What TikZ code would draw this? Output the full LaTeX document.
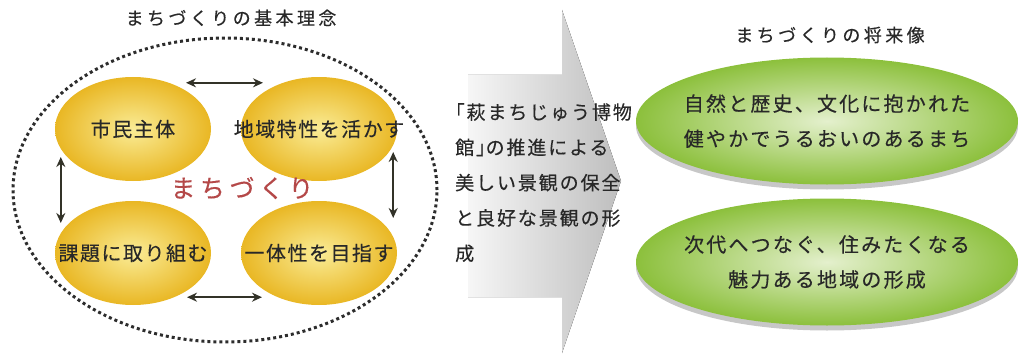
\documentclass[tikz,border=0pt]{standalone}
\usepackage{fontspec}
\setmainfont{Noto Sans CJK JP}[FakeBold=0.35]
\usetikzlibrary{shapes.geometric,arrows.meta,calc,shadows}
\definecolor{txt}{RGB}{40,40,40}
\definecolor{arr}{RGB}{50,50,40}
\definecolor{dotc}{RGB}{45,45,45}
\definecolor{yin}{RGB}{250,236,150}
\definecolor{yout}{RGB}{233,183,36}
\definecolor{gin}{RGB}{228,240,205}
\definecolor{gout}{RGB}{140,192,60}
\definecolor{machi}{RGB}{180,72,72}
\definecolor{bgl}{RGB}{246,246,246}
\definecolor{bgr}{RGB}{190,190,190}
\begin{document}
\begin{tikzpicture}[x=1pt,y=-1pt,
  yel/.style={ellipse, minimum width=156pt, minimum height=104pt, inner xsep=-40pt, inner ysep=-10pt,
    inner color=yin, outer color=yout, text=txt, font=\fontsize{20}{22}\selectfont\addfontfeature{LetterSpace=7.5}},
  grn/.style={ellipse, minimum width=382pt, minimum height=127pt, inner xsep=-80pt, inner ysep=-30pt,
    inner color=gin, outer color=gout, text=txt, align=center,
    font=\fontsize{20}{35}\selectfont\addfontfeature{LetterSpace=11},
    general shadow={fill=black!22, shadow yshift=-5pt}},
  dbl/.style={{Stealth[length=10pt,width=9pt]}-{Stealth[length=10pt,width=9pt]}, line width=2pt, draw=arr},
  ttl/.style={text=txt, inner sep=0pt, font=\fontsize{18}{20}\selectfont\addfontfeature{LetterSpace=19}},
]
\useasboundingbox (0,0) rectangle (1020,361);

% left part
\node[ttl] (ltitle) at (231,18) {まちづくりの基本理念};
\node[ellipse, draw=dotc, line width=3pt, dash pattern=on 3pt off 3pt,
      minimum width=424pt, minimum height=304pt] (frame) at (225,190) {};

\node[yel] (tl) at (133,129) {市民主体};
\node[yel] (tr) at (319,129) {地域特性を活かす};
\node[yel] (bl) at (133,253) {課題に取り組む};
\node[yel] (br) at (319,253) {一体性を目指す};

\node[text=machi, inner sep=0pt, font=\fontsize{25}{28}\selectfont\addfontfeature{LetterSpace=18}] (core) at (242,188) {まちづくり};

\draw[dbl] ([xshift=53pt,yshift=-6pt]tl.north) -- ([xshift=-56pt,yshift=-6pt]tr.north);
\draw[dbl] ([xshift=54pt,yshift=8pt]bl.south) -- ([xshift=-57pt,yshift=8pt]br.south);
\draw[dbl] ([xshift=6pt,yshift=-28pt]tl.west) -- ([xshift=6pt,yshift=30pt]bl.west);
\draw[dbl] ([xshift=-4pt,yshift=-23pt]tr.east) -- ([xshift=-4pt,yshift=35pt]br.east);

% big arrow
\fill[left color=bgl, right color=bgr]
  (468,75) -- (562,75) -- (562,10) -- (621,181) -- (562,353) -- (562,297) -- (468,297) -- cycle;
\node[anchor=north west, inner sep=0pt, align=left, text=txt,
      font=\fontsize{19}{35.3}\selectfont\addfontfeature{LetterSpace=10}] (via) at (455,103)
  {\kern-0.5em「萩まちじゅう博物\\館」\kern-0.5emの推進による\\美しい景観の保全\\と良好な景観の形\\成};

% right part
\node[ttl] (rtitle) at (830,35) {まちづくりの将来像};
\node[grn] (g1) at (827,121) {自然と歴史、文化に抱かれた\\健やかでうるおいのあるまち};
\node[grn] (g2) at (827,262) {次代へつなぐ、住みたくなる\\魅力ある地域の形成};
\end{tikzpicture}
\end{document}
